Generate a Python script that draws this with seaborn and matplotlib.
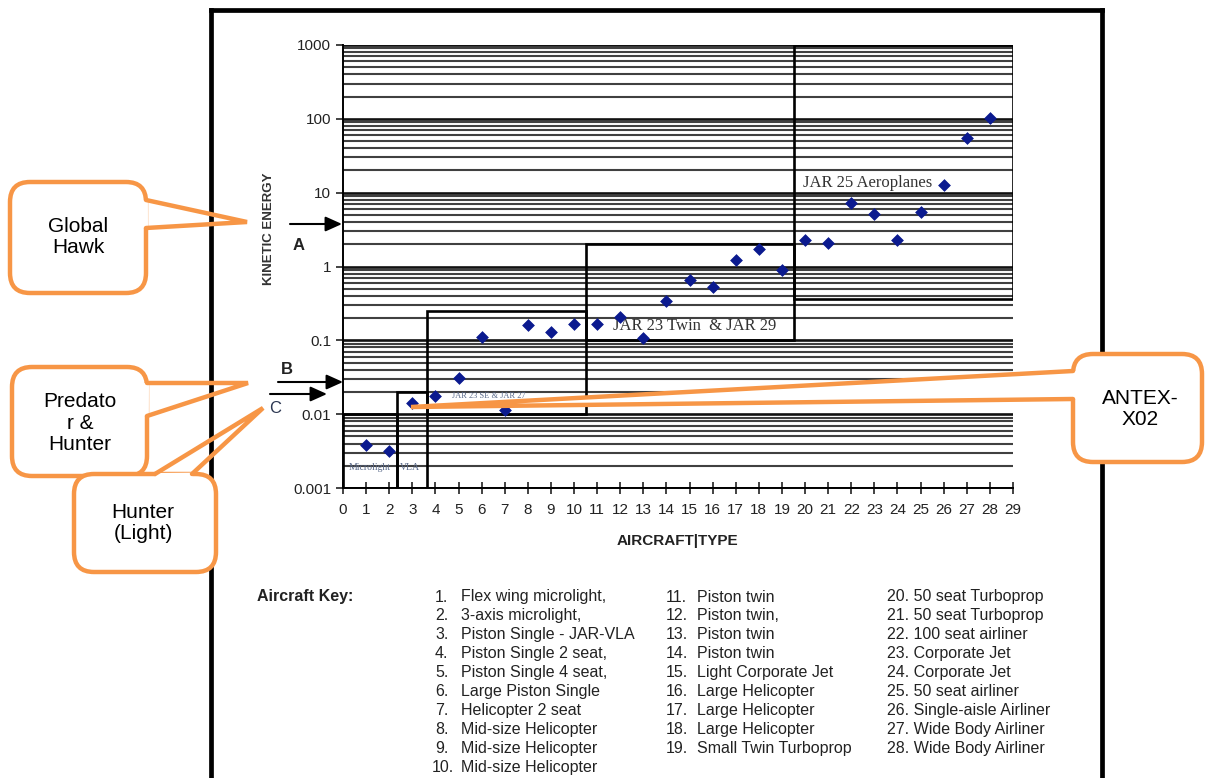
import numpy as np
import pandas as pd
import seaborn as sns
import matplotlib.pyplot as plt
from matplotlib.patches import Rectangle, FancyBboxPatch, Polygon
from matplotlib.ticker import LogLocator, NullFormatter

# aircraft types and kinetic energy
aircraft_type = list(range(1, 29))
kinetic_energy = [0.0038, 0.0032, 0.014, 0.0175, 0.031, 0.11, 0.0113, 0.16, 0.128, 0.165,
                  0.165, 0.21, 0.106, 0.34, 0.65, 0.52, 1.24, 1.7, 0.91, 2.3,
                  2.05, 7.3, 5.2, 2.25, 5.4, 12.8, 55, 103]

aircraft_names = ["Flex wing microlight,", "3-axis microlight,", "Piston Single - JAR-VLA",
                  "Piston Single 2 seat,", "Piston Single 4 seat,", "Large Piston Single",
                  "Helicopter 2 seat", "Mid-size Helicopter", "Mid-size Helicopter",
                  "Mid-size Helicopter", "Piston twin", "Piston twin,", "Piston twin",
                  "Piston twin", "Light Corporate Jet", "Large Helicopter", "Large Helicopter",
                  "Large Helicopter", "Small Twin Turboprop", "50 seat Turboprop",
                  "50 seat Turboprop", "100 seat airliner", "Corporate Jet", "Corporate Jet",
                  "50 seat airliner", "Single-aisle Airliner", "Wide Body Airliner",
                  "Wide Body Airliner"]

# certification regions: (type from, type to, energy from, energy to)
region_names = ["Microlight", "VLA", "JAR 23 SE & JAR 27", "JAR 23 Twin  & JAR 29", "JAR 25 Aeroplanes"]
region_bounds = [(0, 2.35, 0.001, 0.01), (2.35, 3.65, 0.001, 0.02), (3.65, 10.5, 0.01, 0.25),
                 (10.5, 19.5, 0.1, 2.0), (19.5, 29, 0.36, 1000)]

df = pd.DataFrame({"type": aircraft_type, "energy": kinetic_energy})

sns.set_style("white")
plt.rcParams['font.family'] = ['Liberation Sans', 'DejaVu Sans']

W, H = 1205, 778
fig = plt.figure(figsize=(W / 100, H / 100), dpi=100)
fig.patch.set_facecolor("white")

ax = fig.add_axes([343 / W, 1 - 488 / H, 670 / W, 443 / H])
ax.set_yscale("log")
ax.set_ylim(1e-3, 1e3)
ax.set_xlim(0, 29)
ax.yaxis.set_minor_locator(LogLocator(base=10, subs=np.arange(2, 10)))
ax.yaxis.set_minor_formatter(NullFormatter())
ax.set_yticks([0.001, 0.01, 0.1, 1, 10, 100, 1000])
ax.set_yticklabels(["0.001", "0.01", "0.1", "1", "10", "100", "1000"])
ax.set_xticks(range(0, 30))
ax.grid(which="minor", axis="y", color="#404040", lw=1.5)
ax.grid(which="major", axis="y", color="#111111", lw=1.9)
ax.set_axisbelow(True)
for s in ["top", "right"]:
    ax.spines[s].set_visible(False)
for s in ["left", "bottom"]:
    ax.spines[s].set_color("black")
    ax.spines[s].set_linewidth(1.4)
ax.tick_params(axis="y", which="major", direction="out", length=5, width=1.2,
               labelsize=11, colors="#222222", left=True)
ax.tick_params(axis="y", which="minor", length=0)
ax.tick_params(axis="x", direction="inout", length=9, width=1.2, labelsize=11,
               colors="#222222", bottom=True, pad=6)

for (x0, x1, y0, y1) in region_bounds:
    ax.add_patch(Rectangle((x0, y0), x1 - x0, y1 - y0, fill=False, ec="black", lw=1.9, zorder=3))

ax.text(1.17, 0.0019, region_names[0], ha="center", va="center", fontsize=7,
        family="Liberation Serif", color="#5a6a8a", zorder=4)
ax.text(2.9, 0.0019, region_names[1], ha="center", va="center", fontsize=7,
        family="Liberation Serif", color="#5a6a8a", zorder=4)
ax.text(4.7, 0.0175, region_names[2], ha="left", va="center", fontsize=6,
        family="Liberation Serif", color="#5a6a8a", zorder=4)
ax.text(11.7, 0.155, region_names[3], ha="left", va="center", fontsize=12,
        family="Liberation Serif", color="#333333", zorder=4)
ax.text(19.9, 13.5, region_names[4], ha="left", va="center", fontsize=12,
        family="Liberation Serif", color="#333333", zorder=4)

sns.scatterplot(data=df, x="type", y="energy", marker="D", s=36, color="#0b1a8f",
                edgecolor="#0b1a8f", linewidth=0.5, ax=ax, zorder=5, legend=False)
ax.set_xlabel("")
ax.set_ylabel("")

# overlay in pixel coordinates for labels, arrows, key and callouts
ov = fig.add_axes([0, 0, 1, 1], zorder=10)
ov.set_xlim(0, W)
ov.set_ylim(H, 0)
ov.axis("off")
ov.patch.set_alpha(0)

ov.text(269, 229, "KINETIC ENERGY", rotation=90, ha="center", va="center",
        fontsize=9.5, fontweight="bold", color="#333333")
ov.text(677, 541, "AIRCRAFT|TYPE", ha="center", va="center", fontsize=11,
        fontweight="bold", color="#222222")

arrow_kw = dict(arrowstyle="-|>,head_length=1.0,head_width=0.45", color="black",
                lw=1.5, mutation_scale=10, shrinkA=0, shrinkB=0)
ov.annotate("", xy=(342, 224), xytext=(290, 224), arrowprops=arrow_kw)
ov.annotate("", xy=(343, 382), xytext=(278, 382), arrowprops=arrow_kw)
ov.annotate("", xy=(327, 394), xytext=(270, 394), arrowprops=arrow_kw)
ov.text(299, 245, "A", ha="center", va="center", fontsize=12, fontweight="bold", color="#222222")
ov.text(287, 369, "B", ha="center", va="center", fontsize=12, fontweight="bold", color="#222222")
ov.text(275, 408, "C", ha="center", va="center", fontsize=12, color="#2a3550")

# frame
frame_kw = dict(color="black", lw=3.4, solid_capstyle="projecting", zorder=15)
ov.plot([211, 211], [H, 10], **frame_kw)
ov.plot([211, 1102], [10, 10], **frame_kw)
ov.plot([1102, 1102], [10, H], **frame_kw)

# aircraft key
ov.text(257, 597, "Aircraft Key:", ha="left", va="center", fontsize=11.5,
        fontweight="bold", color="#222222")
row_h = 18.9
for i, name in enumerate(aircraft_names):
    n = i + 1
    if n <= 10:
        y = 597 + i * row_h
        ov.text(435 if n < 10 else 432, y, f"{n}.", ha="left", va="center", fontsize=11.5, color="#222222")
        ov.text(461, y, name, ha="left", va="center", fontsize=11.5, color="#222222")
    elif n <= 19:
        y = 597 + (i - 10) * row_h
        ov.text(666, y, f"{n}.", ha="left", va="center", fontsize=11.5, color="#222222")
        ov.text(697, y, name, ha="left", va="center", fontsize=11.5, color="#222222")
    else:
        y = 597 + (i - 19) * row_h
        ov.text(887, y, f"{n}. {name}", ha="left", va="center", fontsize=11.5, color="#222222")

ORANGE = "#F79646"


def callout(box, base1, tip, base2, inward, text, tpos, fill_tail=False):
    x0, y0, x1, y1 = box
    ov.add_patch(FancyBboxPatch((x0, y0), x1 - x0, y1 - y0,
                                boxstyle="round,pad=0,rounding_size=20",
                                fc="white", ec=ORANGE, lw=3.2, zorder=20))
    dx, dy = inward
    b1, b2 = np.array(base1, float), np.array(base2, float)
    t = np.array(tip, float)
    if fill_tail:
        poly = [b1 + (dx, dy), b1, t, b2, b2 + (dx, dy)]
    else:
        # only blank out the box edge where the tail joins it
        s1 = b1 + (t - b1) / np.linalg.norm(t - b1) * 2
        s2 = b2 + (t - b2) / np.linalg.norm(t - b2) * 2
        poly = [b1 + (dx, dy), s1, s2, b2 + (dx, dy)]
    ov.add_patch(Polygon(poly, closed=True, fc="white", ec="none", zorder=21))
    ov.plot([b1[0], t[0], b2[0]], [b1[1], t[1], b2[1]],
            color=ORANGE, lw=3.2, zorder=22, solid_joinstyle="miter")
    ov.text(tpos[0], tpos[1], text, ha="center", va="center", fontsize=15,
            color="black", linespacing=1.15, zorder=23)


callout((10, 182, 146, 293), (146, 200), (247, 222), (146, 228), (-6, 0), "Global\nHawk", (78, 237))
callout((12, 367, 147, 476), (147, 383), (248, 383), (147, 416), (-6, 0), "Predato\nr &\nHunter", (80, 423))
callout((74, 474, 216, 572), (155, 474), (263, 408), (192, 474), (0, 6), "Hunter\n(Light)", (143, 523))
callout((1073, 354, 1202, 462), (1073, 371), (411, 407), (1073, 399), (6, 0), "ANTEX-\nX02", (1140, 409),
        fill_tail=True)

fig.savefig("out.png", dpi=100, facecolor="white")
